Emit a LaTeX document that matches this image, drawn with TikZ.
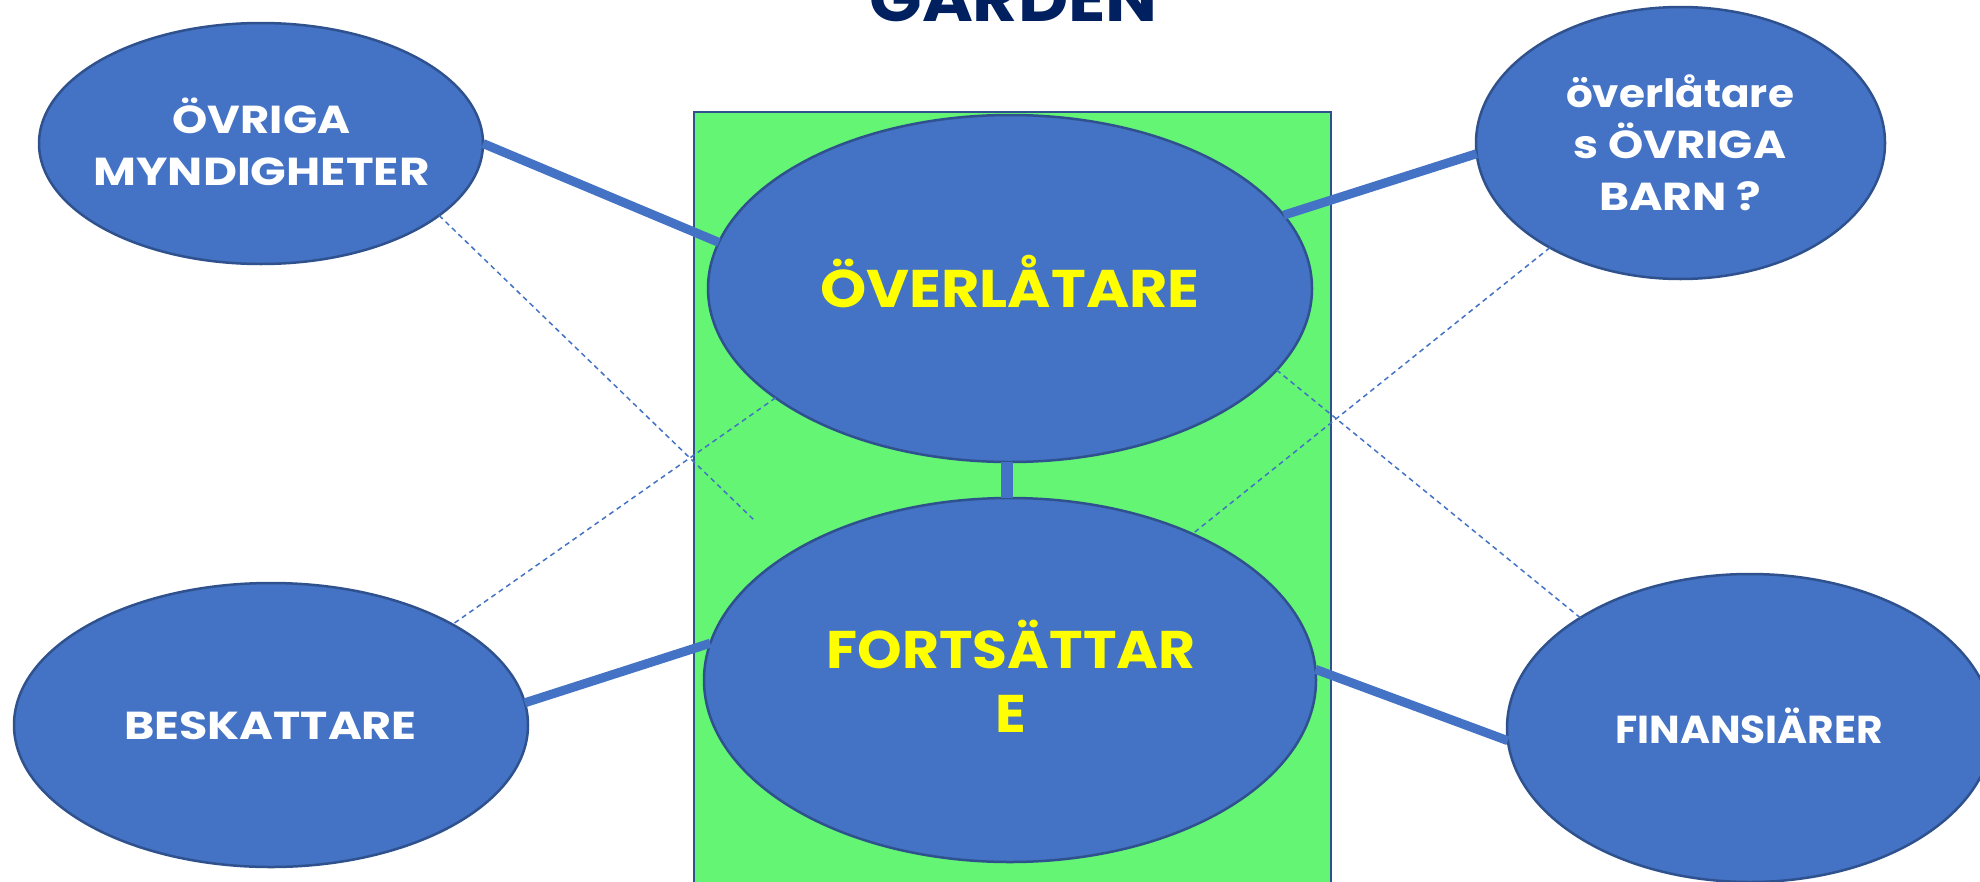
\documentclass[tikz,border=0pt]{standalone}
\usepackage{graphicx}
\usepackage{fontspec}
\setmainfont{Poppins}
\usetikzlibrary{shapes.geometric}
\definecolor{bluefill}{HTML}{4472C4}
\definecolor{blueedge}{HTML}{2F528F}
\definecolor{greenfill}{HTML}{63F573}
\definecolor{navy}{HTML}{002060}
\definecolor{yel}{HTML}{FFFF00}
\newcommand{\widentext}[2]{\scalebox{#1}[1]{#2}}
\begin{document}
\begin{tikzpicture}[x=1pt,y=-1pt,
  bub/.style={ellipse, draw=blueedge, line width=2.5pt, fill=bluefill, inner sep=0pt, outer sep=0pt},
  wt/.style={anchor=base, inner sep=0pt, text=white, font=\fontsize{39}{39}\selectfont\bfseries},
  yt/.style={anchor=base, inner sep=0pt, text=yel, font=\fontsize{53}{53}\selectfont\bfseries},
  link/.style={draw=bluefill, line width=9pt},
  dlink/.style={draw=bluefill, line width=1.5pt, dash pattern=on 5pt off 4pt},
]
\useasboundingbox (0,0) rectangle (1980,881);
\clip (0,0) rectangle (1980,881);
\fill[white] (0,0) rectangle (1980,881);
% title
\node[anchor=base, inner sep=0pt, text=navy, font=\fontsize{64}{64}\selectfont\bfseries] (title) at (1013.5,21.5) {\widentext{1.08}{GARDEN}};
% green zone
\node[draw=blueedge, line width=2.5pt, fill=greenfill, minimum width=637pt, minimum height=820pt, anchor=north west, inner sep=0pt, outer sep=0pt] (zone) at (694,112) {};
% bubbles
\node[bub, minimum width=444pt, minimum height=241pt] (omy) at (261,143.5) {};
\node[bub, minimum width=409pt, minimum height=272pt] (barn) at (1680.5,143) {};
\node[bub, minimum width=514pt, minimum height=284pt] (bes) at (271,725) {};
\node[bub, minimum width=486pt, minimum height=308pt] (fin) at (1750,728) {};
\node[bub, minimum width=604pt, minimum height=347pt] (ove) at (1010,288.5) {};
\node[bub, minimum width=612pt, minimum height=364pt] (fort) at (1010,680) {};
% dashed connectors
\coordinate (d1) at (754,520);
\draw[dlink] (omy.-22) -- (d1);
\draw[dlink] (ove.205.5) -- (bes.29);
\draw[dlink] (barn) -- (fort);
\draw[dlink] (ove.-17.7) -- (fin.147.3);
% solid connectors
\draw[link] (omy.east) -- (ove.171.5);
\draw[link] (ove.15.6) -- (barn.183.4);
\draw[link] (bes.5.3) -- (fort.173.3);
\draw[link] (fort.2.8) -- (fin.183.3);
\draw[link, line width=12pt] ([xshift=-3pt]ove.south) -- ([xshift=-3pt]fort.north);
% texts
\node[wt] (omyA) at (261.5,133) {\widentext{1.15}{ÖVRIGA}};
\node[wt] (omyB) at (261.5,185) {\widentext{1.2}{MYNDIGHETER}};
\node[wt] (barnA) at (1680,107) {\widentext{1.08}{överlåtare}};
\node[wt] (barnB) at (1680,158) {\widentext{1.15}{s ÖVRIGA}};
\node[wt] (barnC) at (1680,210) {\widentext{1.17}{BARN ?}};
\node[wt] (besT) at (270.5,739) {\widentext{1.18}{BESKATTARE}};
\node[wt] (finT) at (1749,743) {\widentext{1.045}{FINANSIÄRER}};
\node[yt] (oveT) at (1010,307.5) {\widentext{1.11}{ÖVERLÅTARE}};
\node[yt] (fortA) at (1011,668) {\widentext{1.07}{FORTSÄTTAR}};
\node[yt] (fortB) at (1011,732) {\widentext{1.07}{E}};
\end{tikzpicture}
\end{document}
